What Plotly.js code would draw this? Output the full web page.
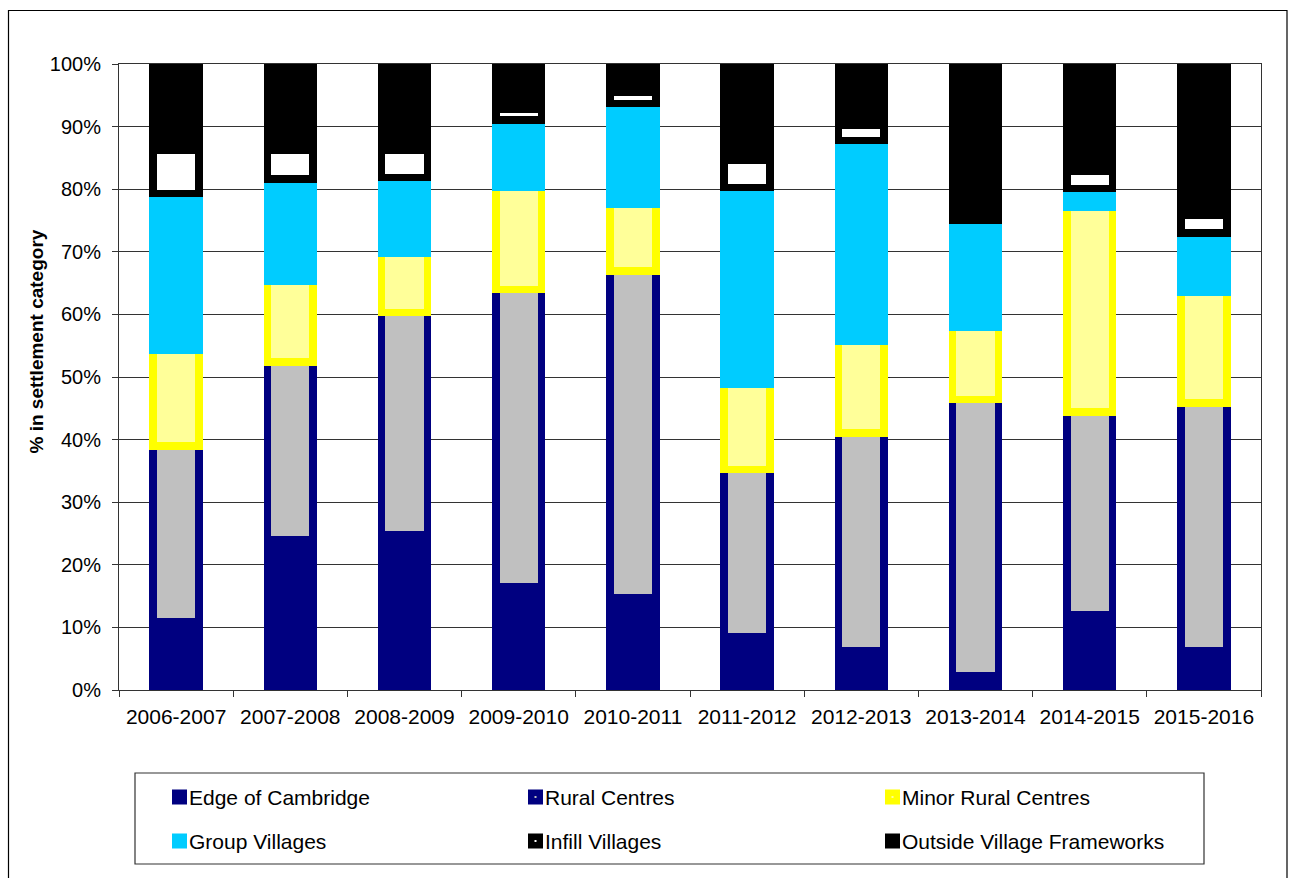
<!DOCTYPE html>
<html>
<head>
<meta charset="utf-8">
<script src="https://cdn.plot.ly/plotly-3.0.1.min.js"></script>
<style>
  html, body { margin: 0; padding: 0; background: #fff; }
  #chart { width: 1293px; height: 878px; }
</style>
</head>
<body>
<div id="chart"></div>
<script>
// ---- data (percent of completions in each settlement category) ----
const years = ["2006-2007","2007-2008","2008-2009","2009-2010","2010-2011",
               "2011-2012","2012-2013","2013-2014","2014-2015","2015-2016"];
const edgeOfCambridge = [10.9, 24.0, 24.8, 16.5, 14.8, 8.5, 6.2, 2.3, 12.0, 6.2];
const ruralCentres    = [28.1, 28.4, 35.5, 47.5, 52.1, 26.7, 34.9, 44.1, 32.4, 39.6];
const minorRural      = [15.3, 12.9, 9.5, 16.3, 10.7, 13.6, 14.6, 11.6, 32.7, 17.7];
const groupVillages   = [25.0, 16.3, 12.1, 10.8, 16.1, 31.5, 32.1, 17.0, 3.0, 9.5];
const infillVillages  = [7.0, 4.7, 4.4, 1.7, 1.8, 4.4, 2.5, 0, 2.7, 2.8];
const outsideVF       = [13.7, 13.7, 13.7, 7.2, 4.5, 15.3, 9.7, 25.0, 17.2, 24.2];
const seriesNames = ["Edge of Cambridge","Rural Centres","Minor Rural Centres",
                     "Group Villages","Infill Villages","Outside Village Frameworks"];
const yTitle = "% in settlement category";

// ---- styles ----
const FONT = "Liberation Sans, Arial, sans-serif";
const styles = [
  {fill: "#000080", line: "#000080"},
  {fill: "#C0C0C0", line: "#000080"},
  {fill: "#FFFF99", line: "#FFFF00"},
  {fill: "#00CCFF", line: "#00CCFF"},
  {fill: "#FFFFFF", line: "#000000"},
  {fill: "#000000", line: "#000000"}
];
const seriesValues = [edgeOfCambridge, ruralCentres, minorRural, groupVillages, infillVillages, outsideVF];

const traces = seriesValues.map((vals, i) => ({
  type: "bar",
  name: seriesNames[i],
  x: years,
  y: vals,
  marker: {color: styles[i].fill, line: {color: styles[i].line, width: 7.6}},
  hoverinfo: "x+y+name"
}));

// pixel -> paper helpers (plot area: x 119..1261, y 64..690)
const L = 119, R = 1261, T = 64, B = 690;
const px = x => (x - L) / (R - L);
const py = y => (B - y) / (B - T);

const shapes = [];
const annotations = [];
// outer chart frame
shapes.push({type: "rect", xref: "paper", yref: "paper",
  x0: px(8.5), x1: px(1287), y0: py(879), y1: py(10.5),
  line: {color: "#000", width: 1.2}, fillcolor: "rgba(0,0,0,0)", layer: "below"});
// legend box
shapes.push({type: "rect", xref: "paper", yref: "paper",
  x0: px(135), x1: px(1204), y0: py(864), y1: py(773),
  line: {color: "#333", width: 1.2}, fillcolor: "rgba(0,0,0,0)"});
// legend entries
const colX = [172, 528, 885];
const rowY = [797, 841];
seriesNames.forEach((nm, i) => {
  const cx = colX[i % 3] + 7.5, cy = rowY[Math.floor(i / 3)];
  const h = 4.25;
  shapes.push({type: "rect", xref: "paper", yref: "paper",
    x0: px(cx - h), x1: px(cx + h), y0: py(cy + h), y1: py(cy - h),
    fillcolor: styles[i].fill, line: {color: styles[i].line, width: 6.5}});
  annotations.push({xref: "paper", yref: "paper", x: px(cx + 7), y: py(cy),
    xanchor: "left", yanchor: "middle", showarrow: false, text: nm,
    font: {family: FONT, size: 21, color: "#000"}});
});
// y-axis title (placed as in the original, above the axis centre)
annotations.push({xref: "paper", yref: "paper", x: px(36), y: py(341.5),
  xanchor: "center", yanchor: "middle", showarrow: false, textangle: -90,
  text: "<b>" + yTitle + "</b>",
  font: {family: FONT, size: 19, color: "#000"}});

const layout = {
  width: 1293, height: 878,
  margin: {l: L, r: 1293 - R, t: T, b: 878 - B, pad: 0},
  paper_bgcolor: "#fff", plot_bgcolor: "#fff",
  barmode: "stack",
  bargap: 0.6,
  showlegend: false,
  font: {family: FONT, size: 20, color: "#000"},
  xaxis: {
    type: "category",
    tickson: "boundaries",
    ticks: "outside", ticklen: 6, tickcolor: "#333", tickwidth: 1,
    ticklabelstandoff: 8,
    showline: true, linecolor: "#333", linewidth: 1, mirror: true,
    showgrid: false, zeroline: false,
    tickfont: {family: FONT, size: 21, color: "#000"},
    automargin: false
  },
  yaxis: {
    range: [0, 100],
    dtick: 10, tick0: 0,
    ticksuffix: "%",
    ticks: "outside", ticklen: 6, tickcolor: "#333", tickwidth: 1,
    ticklabelstandoff: 7,
    showline: true, linecolor: "#333", linewidth: 1, mirror: true,
    showgrid: true, gridcolor: "#333", gridwidth: 1,
    zeroline: false,
    tickfont: {family: FONT, size: 20, color: "#000"},
    automargin: false
  },
  shapes: shapes,
  annotations: annotations
};

Plotly.newPlot("chart", traces, layout, {displayModeBar: false, staticPlot: true});
</script>
</body>
</html>
